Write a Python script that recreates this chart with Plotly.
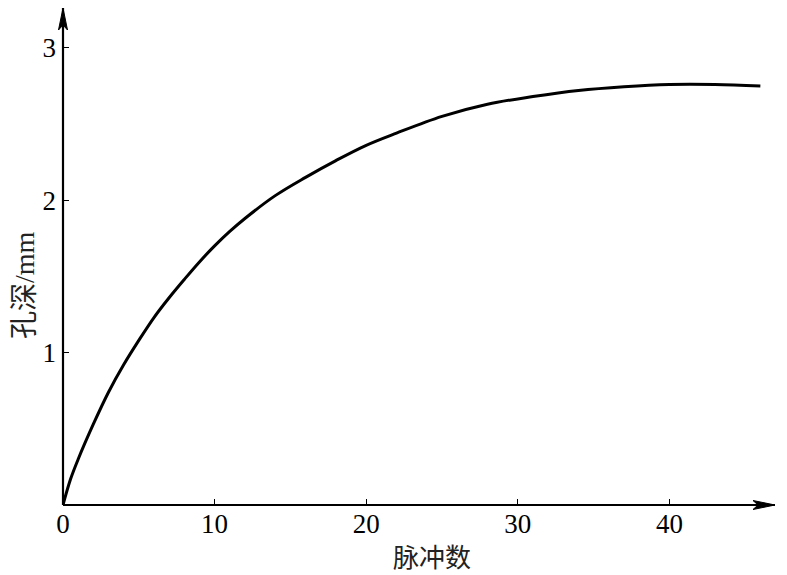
import plotly.graph_objects as go

# Data
pulses = [0, 0.5, 1, 2, 3, 4, 5, 6, 7, 8, 9, 10, 11, 12, 14, 16, 18, 20, 22, 25, 28, 31, 34, 37, 40, 43, 46]
depth_mm = [0, 0.17, 0.30, 0.53, 0.74, 0.92, 1.08, 1.23, 1.36, 1.48, 1.595, 1.70, 1.795, 1.88, 2.03, 2.15,
            2.26, 2.36, 2.44, 2.55, 2.63, 2.68, 2.72, 2.745, 2.76, 2.76, 2.75]
x_ticks = [0, 10, 20, 30, 40]
y_ticks = [1, 2, 3]
x_title = "脉冲数"
y_title = "孔深/mm"

# page body has an 8px default margin, so the figure is sized/offset for it
OFF = 8
W, H = 787 - OFF, 575 - OFF
L, R, T, B = 63 - OFF, 12, 0, 575 - 505
PW, PH = W - L - R, H - T - B

X_MAX = PW / 15.16
Y_MAX = PH / 152.4

fig = go.Figure()
fig.add_trace(go.Scatter(
    x=pulses, y=depth_mm, mode="lines",
    line=dict(color="black", width=3, shape="spline", smoothing=1.0),
    showlegend=False, hoverinfo="skip",
))

tick_font = dict(family="Liberation Serif, Times New Roman, serif", size=27, color="black")
title_font = dict(family="Liberation Serif, Noto Sans CJK SC, serif", size=26, color="#222")
ytitle_font = dict(family="Liberation Serif, Noto Sans CJK SC, serif", size=28, color="#222")

axis_common = dict(ticks="inside", ticklen=6, tickwidth=1.3, tickcolor="black",
                   showgrid=False, zeroline=False, showline=False,
                   tickfont=tick_font, automargin=False)

fig.update_layout(
    width=W, height=H,
    margin=dict(l=L, r=R, t=T, b=B, autoexpand=False),
    paper_bgcolor="white", plot_bgcolor="white",
    xaxis=dict(range=[0, X_MAX], tickvals=x_ticks, ticktext=[str(v) for v in x_ticks],
               ticklabelstandoff=0, **axis_common),
    yaxis=dict(range=[0, Y_MAX], tickvals=y_ticks, ticktext=[str(v) for v in y_ticks],
               ticklabelstandoff=6, **axis_common),
)

# axis lines
fig.add_shape(type="line", xref="paper", yref="paper", x0=0, y0=0, x1=1, y1=0,
              line=dict(color="black", width=2.2))
fig.add_shape(type="line", xref="paper", yref="paper", x0=0, y0=0, x1=0, y1=1,
              line=dict(color="black", width=2.2))
# arrowheads (pixel-sized, anchored at the axis ends)
fig.add_shape(type="path", xref="paper", yref="paper", xsizemode="pixel", ysizemode="pixel",
              xanchor=1, yanchor=0,
              path="M 0 0 L -22 4.5 L -17 0 L -22 -4.5 Z",
              fillcolor="black", line=dict(color="black", width=1))
fig.add_shape(type="path", xref="paper", yref="paper", xsizemode="pixel", ysizemode="pixel",
              xanchor=0, yanchor=1,
              path="M 0 0 L 4.5 -22 L 0 -17 L -4.5 -22 Z",
              fillcolor="black", line=dict(color="black", width=1))

fig.add_annotation(x=(432 - OFF - L) / PW, y=-(558 - 505) / PH, xref="paper", yref="paper",
                   text=x_title, showarrow=False, font=title_font,
                   xanchor="center", yanchor="middle")
fig.add_annotation(x=-(63 - 24) / PW, y=(505 - 285) / PH, xref="paper", yref="paper",
                   text=y_title, textangle=-90, showarrow=False, font=ytitle_font,
                   xanchor="center", yanchor="middle")

fig.write_html("out.html")
